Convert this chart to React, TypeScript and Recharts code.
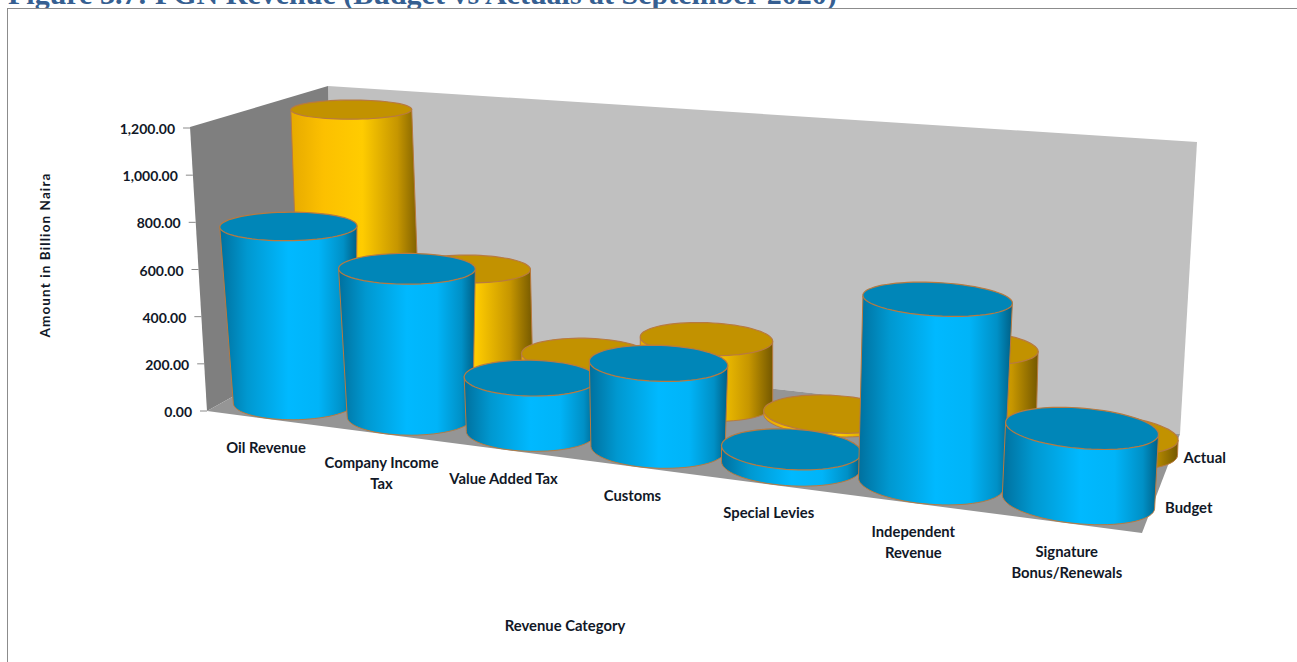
import { BarChart, Bar, XAxis, YAxis, Customized } from 'recharts';

// --- data ---

const CATEGORIES = ['Oil Revenue', 'Company Income Tax', 'Value Added Tax', 'Customs', 'Special Levies', 'Independent Revenue', 'Signature Bonus/Renewals'];
const CATEGORY_LINES = [['Oil Revenue'], ['Company Income', 'Tax'], ['Value Added Tax'], ['Customs'], ['Special Levies'], ['Independent', 'Revenue'], ['Signature', 'Bonus/Renewals']];
const BUDGET = [752, 620, 222, 340, 62, 700, 272];
const ACTUAL = [1150, 475, 150, 273, 15, 350, 60];
const Y_TICKS = [0, 200, 400, 600, 800, 1000, 1200];

const data = CATEGORIES.map((name, i) => ({ name, budget: BUDGET[i], actual: ACTUAL[i] }));

// --- layout ---

const WIDTH = 1297;
const HEIGHT = 662;
const PLOT_LEFT = 190;
const PLOT_TOP = 128;
const PLOT_W = 952;
const PLOT_H = 283;
const BAR_SIZE = 134;
const RADIUS_RATIO = 2.9; // circle depth vs width on the floor
const ROW_BUDGET = 0.21;
const ROW_ACTUAL = 0.75;

// --- fake 3D: floor homography from the unit square ---

const FL = [207, 411];
const FR = [1142, 533];
const BR = [1180, 434];
const BL = [335, 340];

function makeHomography(p0: number[], p1: number[], p2: number[], p3: number[]) {
  const dx1 = p1[0] - p2[0], dx2 = p3[0] - p2[0], sx = p0[0] - p1[0] + p2[0] - p3[0];
  const dy1 = p1[1] - p2[1], dy2 = p3[1] - p2[1], sy = p0[1] - p1[1] + p2[1] - p3[1];
  const den = dx1 * dy2 - dx2 * dy1;
  const g = (sx * dy2 - dx2 * sy) / den;
  const h = (dx1 * sy - sx * dy1) / den;
  const a = p1[0] - p0[0] + g * p1[0];
  const b = p3[0] - p0[0] + h * p3[0];
  const d = p1[1] - p0[1] + g * p1[1];
  const e = p3[1] - p0[1] + h * p3[1];
  return (u: number, v: number) => {
    const w = g * u + h * v + 1;
    return [(a * u + b * v + p0[0]) / w, (d * u + e * v + p0[1]) / w];
  };
}

const floor = makeHomography(FL, FR, BR, BL);

// height of the full value range, in screen px, at a floor point
const rangeAt = (floorY: number) => 112 + 0.42 * floorY;

function wallX(y: number) {
  return FL[0] - 0.0599 * (FL[1] - y);
}

const poly = (pts: number[][]) => pts.map((p) => `${p[0].toFixed(1)},${p[1].toFixed(1)}`).join(' ');

// --- shapes ---

const N = 72;

function Cylinder(props: any) {
  const { x, width, height, row, body, top, sizeK, growK, leanK, leanX, uShift } = props;
  const h = height || 0;
  const u0 = (x + width / 2 - PLOT_LEFT) / PLOT_W;
  const u = u0 + 0.017 * u0 * (1 - u0) + uShift;
  const ru = ((width / 2) / PLOT_W) * sizeK;
  const rv = ru * RADIUS_RATIO;
  const [cx, cy] = floor(u, row);
  const f = h / PLOT_H;
  const grow = 1 + f * growK * Math.max(0, 1 - (cx - FL[0]) / 935);
  const lean = h * (cx - leanX) * leanK;

  const base: number[][] = [];
  const ring: number[][] = [];
  for (let i = 0; i < N; i++) {
    const t = (i / N) * Math.PI * 2;
    const p = floor(u + ru * Math.cos(t), row + rv * Math.sin(t));
    base.push(p);
    const lift = f * rangeAt(p[1]);
    const topC = cy - f * rangeAt(cy);
    const yy = p[1] - lift;
    ring.push([cx + lean + (p[0] - cx) * grow, topC + (yy - topC) * grow]);
  }

  const pickX = (pts: number[][], sign: number) =>
    pts.reduce((best, p, i) => (p[0] * sign > pts[best][0] * sign ? i : best), 0);
  const left = pickX(base, -1);
  const right = pickX(base, 1);
  const arc: number[][] = [];
  for (let i = left; ; i = (i + 1) % N) {
    arc.push(base[i]);
    if (i === right) break;
  }
  const outline = [ring[pickX(ring, -1)], ...arc, ring[pickX(ring, 1)]];

  return (
    <g>
      <polygon points={poly(outline)} fill={body} stroke="#b87a40" strokeWidth={1} strokeLinejoin="round" />
      <polygon points={poly(ring)} fill={top} stroke="#b87a40" strokeWidth={1.2} />
    </g>
  );
}

function Walls() {
  const topBL = [328, 86];
  const topBR = [1197, 142];
  const topFL = [190, 127];
  return (
    <g>
      <defs>
        <linearGradient id="blueBody" x1="0" y1="0" x2="1" y2="0">
          <stop offset="0" stopColor="#00709e" />
          <stop offset="0.2" stopColor="#0098d0" />
          <stop offset="0.5" stopColor="#00b9ff" />
          <stop offset="0.72" stopColor="#00b4f8" />
          <stop offset="0.9" stopColor="#0090c6" />
          <stop offset="1" stopColor="#005f85" />
        </linearGradient>
        <linearGradient id="orangeBody" x1="0" y1="0" x2="1" y2="0">
          <stop offset="0" stopColor="#e6aa00" />
          <stop offset="0.25" stopColor="#fcc000" />
          <stop offset="0.55" stopColor="#ffcc00" />
          <stop offset="0.82" stopColor="#c69600" />
          <stop offset="1" stopColor="#745800" />
        </linearGradient>
      </defs>
      <polygon points={poly([topBL, topBR, BR, BL])} fill="#c0c0c0" />
      <polygon points={poly([topFL, topBL, BL, FL])} fill="#7f7f7f" />
      <polygon points={poly([FL, FR, BR, BL])} fill="#959595" />
    </g>
  );
}

const FONT = 'Lato, sans-serif';
const INK = '#111827';

function Annotations() {
  const labels = [
    { name: 'Budget', row: 0.25 },
    { name: 'Actual', row: ROW_ACTUAL },
  ];
  return (
    <g fontFamily={FONT} fontWeight={700} fill={INK}>
      {labels.map((l) => {
        const p = floor(1.006, l.row);
        return (
          <text key={l.name} x={p[0] + 6} y={p[1] + 6} fontSize={14.8}>
            {l.name}
          </text>
        );
      })}
      <text x={565} y={631} textAnchor="middle" fontSize={14.8}>
        Revenue Category
      </text>
      <text transform="translate(50,255) rotate(-90)" textAnchor="middle" fontSize={13.5} letterSpacing={1.1}>
        Amount in Billion Naira
      </text>
    </g>
  );
}

function ValueTick(props: any) {
  const { y, payload } = props;
  const wx = wallX(y);
  return (
    <g>
      <line x1={wx - 7} y1={y} x2={wx} y2={y} stroke="#8a8a8a" />
      <text x={wx - 15} y={y + 6} textAnchor="end" fontFamily={FONT} fontWeight={700} fontSize={14} fill={INK}>
        {payload.value.toLocaleString('en-US', { minimumFractionDigits: 2 })}
      </text>
    </g>
  );
}

function CategoryTick(props: any) {
  const { x, index } = props;
  const p = floor((x - PLOT_LEFT) / PLOT_W, -0.28);
  const lx = p[0] + 44 - (p[0] - 190) * 0.028;
  const ly = p[1] + 12 - (p[0] - 190) * 0.011;
  return (
    <text textAnchor="middle" fontFamily={FONT} fontWeight={700} fontSize={14.8} fill={INK}>
      {CATEGORY_LINES[index].map((line, i) => (
        <tspan key={line} x={lx} y={ly + i * 21}>
          {line}
        </tspan>
      ))}
    </text>
  );
}

export default function App() {
  return (
    <div style={{ position: 'absolute', left: 0, top: 0, width: WIDTH, height: HEIGHT, overflow: 'hidden', background: '#fff' }}>
      <div
        style={{
          position: 'absolute',
          left: 8,
          top: -23,
          whiteSpace: 'nowrap',
          fontFamily: '"Liberation Serif", serif',
          fontWeight: 700,
          fontSize: 30,
          lineHeight: '34px',
          color: '#365f91',
        }}
      >
        Figure 3.7: FGN Revenue (Budget vs Actuals at September 2020)
      </div>
      <div style={{ position: 'absolute', left: 7, top: 8, width: WIDTH, height: HEIGHT, border: '1px solid #8c8c8c', background: '#fff' }} />
      <div style={{ position: 'absolute', left: 0, top: 0 }}>
        <BarChart
          width={WIDTH}
          height={HEIGHT}
          data={data}
          margin={{ top: PLOT_TOP, left: PLOT_LEFT - 80, right: WIDTH - PLOT_LEFT - PLOT_W, bottom: HEIGHT - PLOT_TOP - PLOT_H - 30 }}
          barSize={BAR_SIZE}
        >
          <Customized component={Walls} />
          <XAxis xAxisId="budget" dataKey="name" height={30} axisLine={false} tickLine={false} interval={0} tick={CategoryTick} />
          <XAxis xAxisId="actual" dataKey="name" hide />
          <YAxis width={80} domain={[0, 1200]} ticks={Y_TICKS} axisLine={false} tickLine={false} tick={ValueTick} />
          <Bar
            xAxisId="actual"
            dataKey="actual"
            isAnimationActive={false}
            shape={(p: any) => (
              <Cylinder {...p} row={ROW_ACTUAL} body="url(#orangeBody)" top="#c29200" sizeK={1.05} growK={0} leanK={0.0001} leanX={700} uShift={0.002} />
            )}
          />
          <Bar
            xAxisId="budget"
            dataKey="budget"
            isAnimationActive={false}
            shape={(p: any) => (
              <Cylinder {...p} row={ROW_BUDGET} body="url(#blueBody)" top="#0086b8" sizeK={1} growK={0.22} leanK={0.000115} leanX={590} uShift={0.003} />
            )}
          />
          <Customized component={Annotations} />
        </BarChart>
      </div>
    </div>
  );
}
